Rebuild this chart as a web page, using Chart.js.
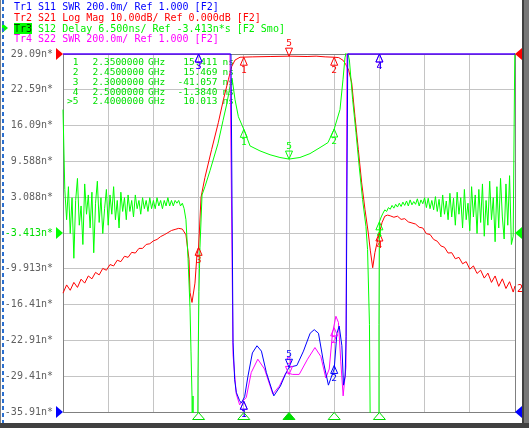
<!DOCTYPE html>
<html>
<head>
<meta charset="utf-8">
<script src="https://cdn.jsdelivr.net/npm/chart.js@4.4.1/dist/chart.umd.min.js"></script>
<style>
html, body { margin: 0; padding: 0; background: #fff; }
#wrap { position: relative; width: 529px; height: 428px; overflow: hidden; background: #fff; }
#chart { position: absolute; left: 0; top: 0; }
.hl { position: absolute; left: 14px; font: 10px 'DejaVu Sans Mono', monospace; line-height: 10px; white-space: pre; }
.fr { position: absolute; }
</style>
</head>
<body>
<div id="wrap">
  <canvas id="chart" width="529" height="428"></canvas>
  <div class="hl" style="top:2px;color:#0000ff">Tr1 S11 SWR 200.0m/ Ref 1.000 [F2]</div>
  <div class="hl" style="top:12.5px;color:#ff0000">Tr2 S21 Log Mag 10.00dB/ Ref 0.000dB [F2]</div>
  <div class="hl" style="top:23.5px;color:#00ee00"><span style="background:#00ff00;color:#004000">Tr3</span> S12 Delay 6.500ns/ Ref -3.413n*s [F2 Smo]</div>
  <div class="hl" style="top:34px;color:#ff00ff">Tr4 S22 SWR 200.0m/ Ref 1.000 [F2]</div>
  <div class="fr" style="left:2px;top:23px;width:0;height:0;border-top:5px solid transparent;border-bottom:5px solid transparent;border-left:6px solid #00ff00"></div>
  <div class="fr" style="left:0;top:0;width:1px;height:428px;background:#808080"></div>
  <div class="fr" style="left:2px;top:0;width:2px;height:428px;background:repeating-linear-gradient(#2a6fd0 0 4px, transparent 4px 7px)"></div>
  <div class="fr" style="left:522px;top:0;width:2px;height:428px;background:#404040"></div>
  <div class="fr" style="left:524px;top:0;width:5px;height:428px;background:#787878"></div>
  <div class="fr" style="left:0;top:423px;width:529px;height:5px;background:#404040"></div>
</div>
<script>
// marker stimulus (GHz) and readouts
const markerFreqs = [2.35, 2.45, 2.30, 2.50, 2.40];
const markerNames = ['1', '2', '3', '4', '>5'];
const activeMarker = 4;
const s11Markers = [1.06, 1.26, 3.0, 3.0, 1.25];
const s21Markers = [-0.9, -0.9, -54.0, -50.0, -0.6];
const s12Markers = [15.411, 15.469, -41.057, -1.384, 10.013];
const s22Markers = [1.06, 1.47, 3.0, 3.0, 1.21];

// grid / tick labels
const xGridFreqs = [2.15, 2.20, 2.25, 2.30, 2.35, 2.40, 2.45, 2.50, 2.55, 2.60, 2.65];
const yTickValues = [-35.91, -29.41, -22.91, -16.41, -9.913, -3.413, 3.088, 9.588, 16.09, 22.59, 29.09];
const yTickLabels = ['-35.91n*', '-29.41n*', '-22.91n*', '-16.41n*', '-9.913n*', '-3.413n*', '3.088n*', '9.588n*', '16.09n*', '22.59n*', '29.09n*'];

// Tr3 S12 group delay (ns)
const s12Freq = [
  2.150, 2.152, 2.154, 2.156, 2.158, 2.160, 2.162, 2.164, 2.166, 2.168,
  2.170, 2.172, 2.174, 2.176, 2.178, 2.180, 2.182, 2.184, 2.186, 2.188,
  2.190, 2.192, 2.194, 2.196, 2.198, 2.200, 2.202, 2.204, 2.206, 2.208,
  2.210, 2.212, 2.214, 2.216, 2.218, 2.220, 2.222, 2.224, 2.226, 2.228,
  2.230, 2.232, 2.234, 2.236, 2.238, 2.240, 2.242, 2.244, 2.246, 2.248,
  2.250, 2.252, 2.254, 2.256, 2.258, 2.260, 2.262, 2.264, 2.266, 2.268,
  2.270, 2.272, 2.274, 2.276, 2.278, 2.280, 2.282, 2.284, 2.286,
  2.2883, 2.2905, 2.2916, 2.2927, 2.2938, 2.2982, 2.2993, 2.3004, 2.3015, 2.3038,
  2.3070, 2.3126, 2.3214, 2.3270, 2.3314, 2.3347, 2.3370, 2.3403, 2.3440, 2.3500,
  2.3569, 2.3679, 2.3790, 2.3900, 2.4000, 2.4121, 2.4232, 2.4343, 2.4431, 2.4500,
  2.4564, 2.4597, 2.4619, 2.4641, 2.4668, 2.4704, 2.4741, 2.4777, 2.4814, 2.4851,
  2.4869, 2.4890, 2.4913, 2.4985, 2.4995, 2.5000,
  2.502, 2.504, 2.506, 2.508, 2.510, 2.512, 2.514, 2.516, 2.518, 2.520,
  2.522, 2.524, 2.526, 2.528, 2.530, 2.532, 2.534, 2.536, 2.538, 2.540,
  2.542, 2.544, 2.546, 2.548, 2.550, 2.552, 2.554, 2.556, 2.558, 2.560,
  2.562, 2.564, 2.566, 2.568, 2.570, 2.572, 2.574, 2.576, 2.578, 2.580,
  2.582, 2.584, 2.586, 2.588, 2.590, 2.592, 2.594, 2.596, 2.598, 2.600,
  2.602, 2.604, 2.606, 2.608, 2.610, 2.612, 2.614, 2.616, 2.618, 2.620,
  2.622, 2.624, 2.626, 2.628, 2.630, 2.632, 2.634, 2.636, 2.638, 2.640,
  2.642, 2.644, 2.646, 2.648, 2.650
];
const s12Delay = [
  19.0, 4.5, -1.0, 5.0, -3.5, 3.0, -8.0, 2.5, 6.5, -2.0,
  1.5, -5.5, 5.5, 0.0, 3.5, -2.5, 4.0, -7.0, 2.0, 6.0,
  -1.5, 3.0, -3.5, 1.0, 4.5, -2.0, 3.5, 0.0, 5.0, -1.0,
  2.5, -2.5, 4.0, 0.5, 3.0, -1.0, 3.5, 0.5, 2.5, -0.5,
  3.5, 1.0, 2.5, 0.0, 3.0, 1.0, 2.5, 0.5, 3.0, 1.0,
  2.5, 1.0, 3.0, 1.5, 2.5, 1.0, 2.5, 1.5, 3.0, 1.5,
  2.5, 1.5, 2.5, 2.0, 2.5, 1.5, 2.0, 1.0, -1.0,
  -8, -17, -25, -33, -70, -70, -29, -14, -6, 3.5,
  5.0, 7.9, 12.8, 17.0, 20.2, 23.2, 24.7, 20.8, 17.7, 15.411,
  12.4, 11.5, 10.8, 10.3, 10.013, 10.3, 11.0, 12.1, 13.0, 15.469,
  19.0, 24.4, 28.4, 30.0, 28.0, 20.8, 14.8, 8.6, 2.66, -2.2,
  -6.4, -20, -70, -70, -20, -1.384,
  -0.5, 0.2, 0.8, 0.5, 1.2, 0.9, 1.6, 1.1, 1.8, 1.3,
  2.0, 1.4, 2.2, 1.6, 2.4, 1.5, 2.6, 1.7, 2.3, 1.8,
  2.8, 1.5, 2.6, 1.9, 3.0, 1.2, 2.9, 1.0, 2.5, 0.8,
  3.2, 0.5, 2.7, -0.5, 3.5, 0.0, 2.4, -1.0, 3.8, -0.5,
  2.9, -2.0, 4.0, 0.0, 3.0, -2.5, 4.5, -1.0, 2.0, -3.0,
  5.0, -0.5, 3.5, -3.5, 4.5, -1.5, 5.5, -4.0, 2.5, -2.0,
  6.0, -1.0, 3.0, -5.0, 5.0, -2.5, 6.5, -0.5, -4.5, 5.5,
  -2.0, 7.0, -5.5, -4.0, 34
];

// Tr2 S21 log mag (dB)
const s21Freq = [
  2.150, 2.154, 2.158, 2.162, 2.166, 2.170, 2.174, 2.178, 2.182, 2.186,
  2.190, 2.194, 2.198, 2.202, 2.206, 2.210, 2.214, 2.218, 2.222, 2.226,
  2.230, 2.234, 2.238, 2.242, 2.246, 2.250, 2.254, 2.258, 2.262, 2.266,
  2.270, 2.274, 2.278, 2.282,
  2.2860, 2.2894, 2.2905, 2.2927, 2.2960, 2.2982, 2.3000, 2.3027, 2.3070, 2.3144,
  2.3218, 2.3274, 2.3329, 2.3366, 2.3403, 2.3458, 2.3600, 2.3800, 2.4000, 2.4200,
  2.4300, 2.4400, 2.4500, 2.4550, 2.4600, 2.4630, 2.4660, 2.4694, 2.4730, 2.4767,
  2.4804, 2.4841, 2.4877, 2.4900, 2.4926, 2.4950, 2.4975, 2.5000, 2.5030, 2.5060,
  2.5090, 2.5120,
  2.516, 2.520, 2.524, 2.528, 2.532, 2.536, 2.540, 2.544, 2.548, 2.552,
  2.556, 2.560, 2.564, 2.568, 2.572, 2.576, 2.580, 2.584, 2.588, 2.592,
  2.596, 2.600, 2.604, 2.608, 2.612, 2.616, 2.620, 2.624, 2.628, 2.632,
  2.636, 2.640, 2.644, 2.648, 2.650
];
const s21Mag = [
  -66.8, -64.5, -66.0, -63.8, -65.2, -62.9, -64.0, -62.0, -62.8, -61.0,
  -61.7, -59.9, -60.4, -58.8, -59.2, -57.6, -58.0, -56.5, -56.8, -55.4,
  -55.6, -54.3, -54.3, -53.2, -53.0, -52.2, -51.8, -51.0, -50.5, -49.9,
  -49.3, -49.0, -48.7, -48.9,
  -50.5, -57.4, -66.6, -69.4, -64.0, -56.0, -54.0, -40.0, -34.5, -26.7,
  -19.2, -12.8, -7.2, -3.5, -1.7, -0.9, -0.8, -0.7, -0.6, -0.7,
  -0.6, -0.8, -0.9, -1.0, -1.8, -3.0, -4.5, -8.1, -17.5, -26.7,
  -36.0, -43.5, -50.0, -55.0, -59.7, -55.5, -52.6, -50.0, -47.0, -45.3,
  -45.0, -45.2,
  -45.6, -45.3, -46.2, -46.0, -46.9, -47.2, -47.5, -48.4, -48.6, -50.2,
  -50.4, -51.8, -52.3, -53.6, -54.0, -55.6, -55.5, -57.2, -56.8, -58.6,
  -58.0, -60.1, -59.2, -61.3, -60.4, -62.6, -61.2, -63.8, -62.0, -64.9,
  -62.8, -65.5, -63.6, -66.5, -64.8
];

// Tr1 S11 SWR
const s11Freq = [
  2.150, 2.3358, 2.3381, 2.3399, 2.3417, 2.3454, 2.3473, 2.3509, 2.3546, 2.3595,
  2.3646, 2.3695, 2.3750, 2.3832, 2.3905, 2.3960, 2.4000, 2.4087, 2.4160, 2.4234,
  2.4279, 2.4326, 2.4381, 2.4436, 2.4500, 2.4530, 2.4555, 2.4585, 2.4603, 2.4621,
  2.4632, 2.4650, 2.650
];
const s11Swr = [
  3.0, 3.0, 1.39, 1.18, 1.11, 1.063, 1.05, 1.085, 1.20, 1.33,
  1.37, 1.34, 1.22, 1.09, 1.145, 1.21, 1.25, 1.26, 1.34, 1.44,
  1.46, 1.44, 1.28, 1.15, 1.24, 1.44, 1.48, 1.37, 1.15, 1.20,
  1.42, 3.0, 3.0
];

// Tr4 S22 SWR
const s22Freq = [
  2.150, 2.3347, 2.3381, 2.3417, 2.3454, 2.3473, 2.3527, 2.3582, 2.3655, 2.3729,
  2.3821, 2.3894, 2.3967, 2.4040, 2.4113, 2.4205, 2.4287, 2.4352, 2.4407, 2.4445,
  2.4481, 2.4519, 2.4547, 2.4573, 2.4599, 2.4630, 2.4641, 2.650
];
const s22Swr = [
  3.0, 3.0, 1.32, 1.10, 1.04, 1.054, 1.08, 1.22, 1.295, 1.24,
  1.10, 1.145, 1.22, 1.21, 1.21, 1.295, 1.36, 1.31, 1.19, 1.24,
  1.44, 1.535, 1.50, 1.28, 1.09, 1.25, 3.0, 3.0
];

const BLUE = '#0000ff', RED = '#ff0000', GREEN = '#00ff00', MAGENTA = '#ff00ff';
const FONT = "10px 'DejaVu Sans Mono', monospace";
const SMALL = "9.5px 'DejaVu Sans Mono', monospace";

function pts(fs, vs) {
  return fs.map((f, i) => ({ x: f, y: vs[i] }));
}

// marker triangle, apex on the point; dir 1 = body below, -1 = body above
function tri(ctx, x, y, dir, hw, h, color, fill) {
  ctx.beginPath();
  ctx.moveTo(x, y);
  ctx.lineTo(x - hw, y + h * dir);
  ctx.lineTo(x + hw, y + h * dir);
  ctx.closePath();
  if (fill) { ctx.fillStyle = color; ctx.fill(); }
  ctx.strokeStyle = color;
  ctx.lineWidth = 1;
  ctx.stroke();
}

const vnaDecor = {
  id: 'vnaDecor',
  beforeDatasetsDraw(chart) {
    // marker readout table of the active trace
    const ctx = chart.ctx;
    ctx.save();
    ctx.font = SMALL;
    ctx.fillStyle = '#00e000';
    ctx.textBaseline = 'middle';
    markerFreqs.forEach((f, i) => {
      const y = 63 + i * 9.75;
      ctx.textAlign = 'right';
      ctx.fillText(markerNames[i], 78.5, y);
      ctx.fillText(s12Markers[i].toPrecision(5), 217.5, y);
      ctx.textAlign = 'left';
      ctx.fillText(f.toFixed(7), 92.5, y);
      ctx.fillText('GHz', 148, y);
      ctx.fillText('ns', 222.5, y);
    });
    ctx.restore();
  },
  afterDatasetsDraw(chart) {
    const ctx = chart.ctx;
    const area = chart.chartArea;
    const xs = chart.scales.x;
    ctx.save();
    ctx.font = SMALL;
    ctx.textAlign = 'center';
    ctx.textBaseline = 'middle';

    const traces = [
      { vals: s22Markers, axis: 'ySwr', color: MAGENTA },
      { vals: s21Markers, axis: 'yDb', color: RED },
      { vals: s12Markers, axis: 'y', color: GREEN },
      { vals: s11Markers, axis: 'ySwr', color: BLUE }
    ];
    traces.forEach(t => {
      const ys = chart.scales[t.axis];
      t.vals.forEach((v, i) => {
        if (v < ys.min || v > ys.max) return;
        const x = xs.getPixelForValue(markerFreqs[i]);
        const y = ys.getPixelForValue(v);
        const dir = i === activeMarker ? -1 : 1;
        tri(ctx, x, y, dir, 3.5, 8, t.color, false);
        ctx.fillStyle = t.color;
        ctx.fillText(String(i + 1), x, y + dir * 13);
      });
    });

    // stimulus markers on the bottom edge
    markerFreqs.forEach((f, i) => {
      const x = xs.getPixelForValue(f);
      tri(ctx, x, area.bottom + 0.5, 1, 6, 7, '#00dd00', i === activeMarker);
    });

    // reference position arrows
    const refs = [
      { axis: 'yDb', value: 0, color: RED },
      { axis: 'y', value: -3.413, color: GREEN },
      { axis: 'ySwr', value: 1.0, color: BLUE }
    ];
    refs.forEach(r => {
      const y = chart.scales[r.axis].getPixelForValue(r.value);
      ctx.fillStyle = r.color;
      ctx.beginPath();
      ctx.moveTo(area.left - 7, y - 6);
      ctx.lineTo(area.left, y);
      ctx.lineTo(area.left - 7, y + 6);
      ctx.closePath();
      ctx.fill();
      ctx.beginPath();
      ctx.moveTo(area.right + 7, y - 6);
      ctx.lineTo(area.right, y);
      ctx.lineTo(area.right + 7, y + 6);
      ctx.closePath();
      ctx.fill();
    });

    // trace number at the right end of Tr2
    ctx.font = FONT;
    ctx.fillStyle = RED;
    ctx.textAlign = 'left';
    const yEnd = chart.scales.yDb.getPixelForValue(s21Mag[s21Mag.length - 1]);
    ctx.fillText('2', area.right + 2, yEnd + 3);
    ctx.restore();
  }
};

const ctx = document.getElementById('chart').getContext('2d');
const vnaChart = new Chart(ctx, {
  type: 'line',
  data: {
    datasets: [
      { label: 'Tr1 S11', data: pts(s11Freq, s11Swr), yAxisID: 'ySwr', borderColor: BLUE },
      { label: 'Tr4 S22', data: pts(s22Freq, s22Swr), yAxisID: 'ySwr', borderColor: MAGENTA },
      { label: 'Tr3 S12', data: pts(s12Freq, s12Delay), yAxisID: 'y', borderColor: GREEN },
      { label: 'Tr2 S21', data: pts(s21Freq, s21Mag), yAxisID: 'yDb', borderColor: RED }
    ]
  },
  options: {
    responsive: false,
    animation: false,
    devicePixelRatio: 1,
    datasets: { line: { clip: 1 } },
    elements: {
      point: { radius: 0 },
      line: { borderWidth: 1, tension: 0, fill: false }
    },
    plugins: { legend: { display: false }, tooltip: { enabled: false } },
    layout: { padding: { left: 0, top: 54, right: 14, bottom: 15 } },
    scales: {
      x: {
        type: 'linear',
        min: 2.15,
        max: 2.65,
        afterBuildTicks: s => { s.ticks = xGridFreqs.map(v => ({ value: v })); },
        afterFit: s => { s.height = 0; },
        ticks: { display: false },
        grid: {
          drawTicks: false,
          color: c => (c.index === xGridFreqs.length - 1 ? '#808080' : '#c4c4c4')
        },
        border: { display: true, color: '#808080' }
      },
      y: {
        position: 'left',
        min: -35.91,
        max: 29.09,
        afterBuildTicks: s => { s.ticks = yTickValues.map(v => ({ value: v })); },
        afterFit: s => { s.width = 63; },
        ticks: {
          autoSkip: false,
          padding: 10,
          font: { family: "'DejaVu Sans Mono', monospace", size: 10 },
          color: c => (c.index === 5 ? '#00dd00' : '#606060'),
          callback: (v, i) => yTickLabels[i]
        },
        grid: {
          drawTicks: false,
          color: c => (c.index === yTickValues.length - 1 ? '#808080' : '#c4c4c4')
        },
        border: { display: true, color: '#808080' }
      },
      yDb: { display: false, min: -100, max: 0 },
      ySwr: { display: false, min: 1, max: 3 }
    }
  },
  plugins: [vnaDecor]
});
</script>
</body>
</html>
